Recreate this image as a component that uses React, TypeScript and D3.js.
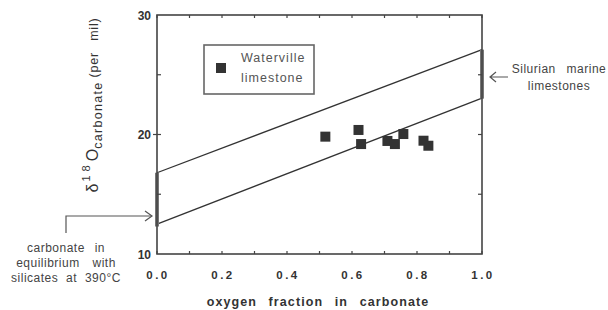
import * as React from 'react';
import * as d3 from 'd3';

const fractions = [0.518, 0.62, 0.628, 0.709, 0.732, 0.758, 0.82, 0.835];
const deltas = [19.82, 20.38, 19.2, 19.46, 19.2, 20.04, 19.48, 19.06];
const upperLine = [16.8, 27.1];
const lowerLine = [12.5, 23.05];
const leftRange = [12.3, 16.8];
const rightRange = [23.0, 27.1];
const xTicks = [0, 0.2, 0.4, 0.6, 0.8, 1.0];
const xMinor = d3.range(0, 1.0001, 0.1);
const yTicks = [10, 20, 30];
const yMinor = [15, 20, 25];

const W = 608;
const H = 310;
const margin = { left: 157, right: 126, top: 15, bottom: 56 };

const App: React.FC = () => {
  const x = d3.scaleLinear().domain([0, 1]).range([margin.left, W - margin.right]);
  const y = d3.scaleLinear().domain([10, 30]).range([H - margin.bottom, margin.top]);
  const line = d3.line<[number, number]>().x(d => x(d[0])).y(d => y(d[1]));
  const frame = '#444';
  const ink = '#333';
  const font = 'Arial, "Liberation Sans", Helvetica, sans-serif';

  return (
    <svg width={W} height={H} style={{ position: 'absolute', left: 0, top: 0, background: '#fff' }} fontFamily={font}>
      {/* mixing lines */}
      <path d={line([[0, upperLine[0]], [1, upperLine[1]]]) || ''} stroke={ink} strokeWidth={1.3} fill="none" />
      <path d={line([[0, lowerLine[0]], [1, lowerLine[1]]]) || ''} stroke={ink} strokeWidth={1.3} fill="none" />

      {/* end-member ranges */}
      <line x1={x(0)} x2={x(0)} y1={y(leftRange[0])} y2={y(leftRange[1])} stroke="#777" strokeWidth={4} />
      <line x1={x(1)} x2={x(1)} y1={y(rightRange[0])} y2={y(rightRange[1])} stroke="#777" strokeWidth={4} />

      {/* frame */}
      <rect x={x(0)} y={y(30)} width={x(1) - x(0)} height={y(10) - y(30)} fill="none" stroke={frame} strokeWidth={1.6} />

      {xMinor.map((t, i) => (
        <g key={'xm' + i}>
          <line x1={x(t)} x2={x(t)} y1={y(10)} y2={y(10) - 3} stroke={frame} strokeWidth={1.2} />
          <line x1={x(t)} x2={x(t)} y1={y(30)} y2={y(30) + 3} stroke={frame} strokeWidth={1.2} />
        </g>
      ))}
      {yMinor.map((t, i) => (
        <g key={'ym' + i}>
          <line x1={x(0)} x2={x(0) + 4} y1={y(t)} y2={y(t)} stroke={frame} strokeWidth={1.2} />
          <line x1={x(1)} x2={x(1) - 4} y1={y(t)} y2={y(t)} stroke={frame} strokeWidth={1.2} />
          <line x1={x(0)} x2={x(0) - 4} y1={y(t)} y2={y(t)} stroke={frame} strokeWidth={t === 20 ? 1.2 : 0} />
        </g>
      ))}

      {/* tick labels */}
      {yTicks.map(t => (
        <text key={'yl' + t} x={x(0) - 6} y={y(t) + 4.5} textAnchor="end" fontSize={12} fontWeight="bold" fill={ink}>
          {t}
        </text>
      ))}
      {xTicks.map(t => (
        <text key={'xl' + t} x={x(t) + 1} y={279} textAnchor="middle" fontSize={11.5} fontWeight="bold" fill={ink} letterSpacing={2.5}>
          {t.toFixed(1)}
        </text>
      ))}

      {/* axis titles */}
      <text x={318} y={306} textAnchor="middle" fontSize={12.5} fontWeight="bold" fill={ink} letterSpacing={1.1} wordSpacing={7}>
        oxygen fraction in carbonate
      </text>
      <text transform="translate(98,105) rotate(-90)" textAnchor="middle" fill={ink}>
        <tspan fontSize={16}>δ</tspan>
        <tspan fontSize={11} dy={-8} dx={2} letterSpacing={4}>18</tspan>
        <tspan fontSize={16} dy={8}>O</tspan>
        <tspan fontSize={12.5} dy={4} letterSpacing={1.3}>carbonate</tspan>
        <tspan fontSize={12.5} dy={-4} dx={4} letterSpacing={0.8} wordSpacing={7}>(per mil)</tspan>
      </text>

      {/* data */}
      {fractions.map((f, i) => (
        <rect key={'p' + i} x={x(f) - 5} y={y(deltas[i]) - 5} width={10} height={10} fill={ink} />
      ))}

      {/* legend */}
      <rect x={204} y={45} width={110} height={49} fill="#fff" stroke="#666" strokeWidth={1.6} />
      <rect x={216} y={63} width={10} height={10} fill={ink} />
      <text x={241} y={62} fontSize={12.5} fill="#555" letterSpacing={1}>Waterville</text>
      <text x={241} y={82} fontSize={12.5} fill="#555" letterSpacing={1}>limestone</text>

      {/* left annotation */}
      <path d={`M66,233 V216 H${x(0) - 5}`} stroke="#555" strokeWidth={1.2} fill="none" />
      <path d={`M${x(0) - 12},211 L${x(0) - 5},216 L${x(0) - 12},221`} stroke="#555" strokeWidth={1.2} fill="none" />
      <text textAnchor="middle" fontSize={12} fill="#444" letterSpacing={0.5}>
        <tspan x={66} y={252} wordSpacing={6}>carbonate in</tspan>
        <tspan x={66} y={267} wordSpacing={9}>equilibrium with</tspan>
        <tspan x={66} y={282} wordSpacing={4}>silicates at 390°C</tspan>
      </text>

      {/* right annotation */}
      <path d={`M508,77 H490 M496,72 L490,77 L496,82`} stroke="#555" strokeWidth={1.2} fill="none" />
      <text textAnchor="middle" fontSize={12} fill="#444" letterSpacing={0.5}>
        <tspan x={559} y={73} wordSpacing={7}>Silurian marine</tspan>
        <tspan x={559} y={90}>limestones</tspan>
      </text>
    </svg>
  );
};

export default App;
